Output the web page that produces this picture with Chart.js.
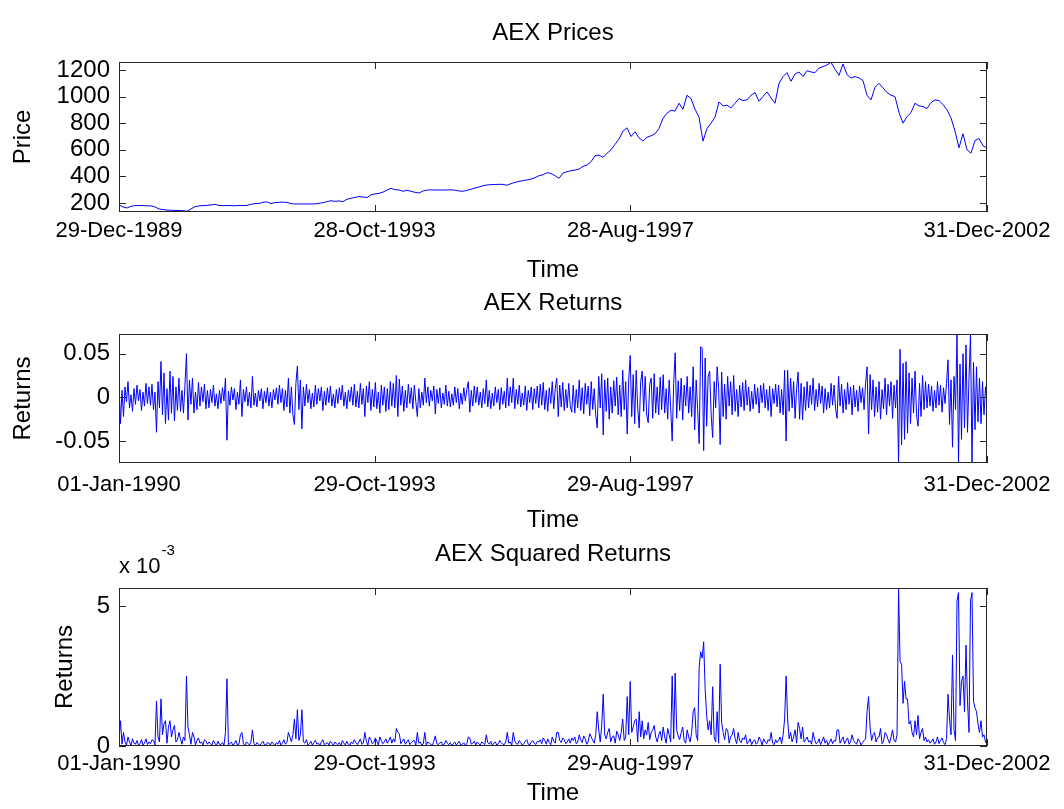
<!DOCTYPE html>
<html>
<head>
<meta charset="utf-8">
<script src="https://cdn.jsdelivr.net/npm/chart.js@4.4.1/dist/chart.umd.min.js"></script>
<style>
  body { margin: 0; background: #fff; }
  canvas { position: absolute; left: 0; }
</style>
</head>
<body>
<canvas id="prices" width="1064" height="285" style="top:0px"></canvas>
<canvas id="returns" width="1064" height="250" style="top:285px"></canvas>
<canvas id="squared" width="1064" height="274" style="top:535px"></canvas>
<script>
// x axis runs in days from 29-Dec-1989 to 31-Dec-2002
const totalDays = 4750;
const tickDays = [0, 1399, 2799, 4750];
const priceDateLabels = ['29-Dec-1989', '28-Oct-1993', '28-Aug-1997', '31-Dec-2002'];
const returnDateLabels = ['01-Jan-1990', '29-Oct-1993', '29-Aug-1997', '31-Dec-2002'];

const priceTicks = [200, 400, 600, 800, 1000, 1200];
const returnTicks = [-0.05, 0, 0.05];
const squaredTicks = [0, 5];

// AEX index level, evenly spaced over the period
const prices = [
  185, 170, 162, 175, 180, 181, 180, 179, 178, 170,
  155, 150, 146, 145, 144, 143, 142, 137, 155, 172,
  178, 180, 182, 185, 190, 181, 180, 181, 180, 179,
  181, 180, 182, 190, 195, 196, 205, 208, 195, 203,
  205, 206, 204, 195, 192, 193, 192, 193, 192, 193,
  198, 202, 210, 217, 212, 215, 210, 228, 235, 242,
  248, 245, 240, 262, 268, 272, 282, 296, 310, 300,
  298, 288, 295, 288, 280, 275, 290, 297, 298, 297,
  298, 297, 298, 299, 296, 290, 288, 295, 303, 313,
  320, 330, 335, 338, 339, 340, 340, 333, 345, 355,
  362, 368, 373, 380, 390, 405, 412, 428, 422, 405,
  385, 425, 435, 443, 447, 455, 475, 485, 510, 555,
  560, 543, 573, 600, 640, 680, 740, 765, 700, 735,
  690, 665, 694, 705, 720, 760, 837, 875, 898, 890,
  950, 905, 1010, 985, 905, 845, 665, 760, 800, 845,
  960, 930, 935, 915, 950, 985, 970, 975, 1010, 1030,
  965, 1000, 1035, 990, 950, 1100, 1150, 1180, 1115, 1170,
  1185, 1150, 1195, 1185, 1180, 1215, 1225, 1238, 1258, 1205,
  1160, 1245, 1165, 1140, 1150, 1140, 1120, 1010, 975, 1070,
  1100, 1065, 1030, 1010, 1000, 880, 800, 850, 880, 950,
  930, 925, 910, 955, 975, 970, 940, 900, 840, 740,
  615, 720, 600, 575, 670, 685, 630, 612
];

// daily returns in units of 0.001, evenly spaced over the period
const returnsMilli = [
  15, -30, 8, -22, 12, -5, 18, -12, 3, -16, 10, -8, 14, -4, 9, -15, 6, -10, 16, -7,
  12, -9, 15, -14, 6, -40, 18, -12, 41, -20, 28, -30, 10, -26, 30, -18, 24, -27, 12, -15,
  22, -16, 8, -18, 14, 50, -26, 20, -8, 22, -18, 6, -14, 17, -10, 12, -5, 15, -13, 8,
  -12, 9, -6, 14, -10, 4, -13, 8, -7, 11, -4, 22, -49, 7, -9, 12, -3, 10, -14, 6,
  -8, 20, -22, 9, -5, 12, -10, 6, -12, 24, -9, 5, -11, 8, -4, 10, -13, 7, -6, 11,
  -10, 6, -12, 9, -3, 11, -8, 14, -6, 10, -15, 8, -11, 22, -18, 12, -20, -31, 16, 36,
  -14, 20, -36, 12, -10, 15, -6, 9, -13, 5, -11, 14, -8, 10, -4, 12, -15, 7, -9, 11,
  -6, 13, -10, 4, -12, 9, -7, 11, -3, 14, -10, 6, -13, 8, -5, 12, -9, 15, -11, 7,
  -12, 16, -8, 10, -22, 13, -6, 18, -15, 9, -11, 17, -13, 6, -18, 14, -9, 12, -16, 10,
  -14, 18, -10, 16, -12, 25, -22, 21, -9, 13, -16, 8, -12, 15, -7, 11, -13, 14, -5, -22,
  10, -12, 6, -9, 22, -6, 12, -10, 8, -4, 13, -19, 9, -7, 11, -12, 5, -8, 14, -10,
  7, -11, 4, -9, 12, -6, 10, -13, 5, -8, 11, -4, 9, 18, -17, 8, -10, 13, -6, 12,
  -9, 6, -12, 10, -7, 20, -11, 8, -13, 5, -10, 12, -6, 9, -14, 11, -8, 7, -12, 22,
  -10, 12, -6, 22, -13, 9, -8, 14, -11, 5, -9, 13, -15, 8, -6, 12, -14, 10, -7, 13,
  -12, 15, -9, 17, -14, 8, -16, 11, -7, 18, -13, 10, 22, -22, 14, -11, 17, -15, 9, -12,
  16, -10, -17, 14, -18, 9, -12, 20, -15, 11, -19, 16, -8, 13, -21, 18, -14, 10, -20, -35,
  24, -12, 27, -43, 20, -16, 22, -25, 12, -18, 19, -10, 23, -20, 14, -22, 31, -14, 18, -42,
  20, 48, -22, 26, -30, 31, -12, -35, 18, 30, -16, 24, -20, -29, 15, 22, -24, 27, -18, 12,
  -20, 23, -14, 26, -18, 10, -25, 20, -12, -50, 16, 51, -24, 19, -15, 22, -26, 14, -10, 24,
  -18, 12, -22, 35, -37, 20, -14, -53, 58, 56, -61, 45, -33, 24, 30, -20, -46, 18, -12, 35,
  10, -54, 29, -22, 15, -25, 24, -10, 18, -20, 25, -16, 9, -22, 14, -11, 17, -15, 20, -9,
  12, -16, 7, -13, 15, -8, 11, -18, 14, -6, 16, -12, 9, -15, 13, -22, 10, -7, 15, -11,
  14, -18, 9, -20, 31, -50, 31, -16, 22, -12, 18, -24, 10, 29, -25, 16, -26, 12, -15, 18,
  -12, 14, -8, 22, -15, 9, -11, 16, -7, 13, -18, 10, -14, 6, -12, 16, -9, 14, -13, -24,
  24, -10, 15, -18, 9, -14, 17, -8, 12, -20, 14, -11, 8, -16, 13, -6, 11, -14, 16, 35,
  -42, 26, -14, 20, -22, 12, -17, 18, -25, 9, -13, 22, -20, 15, -10, 18, -24, 14, -12, 20,
  -75, 55, -54, 39, -48, 41, -41, 28, -30, 22, -18, 30, -20, -33, 16, -22, 25, -14, 18, -12,
  15, -10, 13, -16, 8, -12, 18, -9, 14, -17, 11, -7, 16, 43, -31, 20, -57, 24, -14, 72,
  -74, 38, -48, 50, -35, 60, -40, 22, 72, -74, 40, -37, 35, -28, 22, -30, 18, -20, 12, -8
];

const FONT = "'Liberation Sans', Arial, Helvetica, sans-serif";
Chart.defaults.font.family = FONT;
Chart.defaults.font.size = 24;
Chart.defaults.color = '#000';

function toPoints(values) {
  const step = totalDays / (values.length - 1);
  return values.map((v, i) => ({ x: i * step, y: v }));
}

// matlab style box with inward ticks on all four sides
const boxTicks = {
  id: 'boxTicks',
  afterDatasetsDraw(chart) {
    const { ctx, chartArea: a, scales } = chart;
    const len = 7;
    ctx.save();
    ctx.strokeStyle = '#262626';
    ctx.lineWidth = 1;
    ctx.strokeRect(a.left + 0.5, a.top + 0.5, a.width - 1, a.height - 1);
    ctx.beginPath();
    scales.x.ticks.forEach(t => {
      const px = Math.round(scales.x.getPixelForValue(t.value)) + 0.5;
      ctx.moveTo(px, a.top); ctx.lineTo(px, a.top + len);
      ctx.moveTo(px, a.bottom); ctx.lineTo(px, a.bottom - len);
    });
    scales.y.ticks.forEach(t => {
      const py = Math.round(scales.y.getPixelForValue(t.value)) + 0.5;
      ctx.moveTo(a.left, py); ctx.lineTo(a.left + len, py);
      ctx.moveTo(a.right, py); ctx.lineTo(a.right - len, py);
    });
    ctx.stroke();
    ctx.restore();
  }
};

// "x 10^-3" multiplier above the squared returns axis
const exponentLabel = {
  id: 'exponentLabel',
  afterDraw(chart) {
    const { ctx, chartArea: a } = chart;
    ctx.save();
    ctx.fillStyle = '#000';
    ctx.textBaseline = 'alphabetic';
    ctx.textAlign = 'left';
    ctx.font = '22px ' + FONT;
    ctx.fillText('x 10', a.left, a.top - 15);
    const w = ctx.measureText('x 10').width;
    ctx.font = '15px ' + FONT;
    ctx.fillText('-3', a.left + w + 1, a.top - 33);
    ctx.restore();
  }
};

function makePanel(id, o) {
  return new Chart(document.getElementById(id), {
    type: 'line',
    data: {
      datasets: [{
        data: o.points,
        borderColor: '#0000ff',
        borderWidth: 1,
        pointRadius: 0,
        tension: 0
      }]
    },
    options: {
      responsive: false,
      animation: false,
      events: [],
      layout: { padding: { left: 0, right: 77, top: 0, bottom: 0 } },
      plugins: {
        legend: { display: false },
        tooltip: { enabled: false },
        title: {
          display: true,
          fullSize: false,
          text: o.title,
          color: '#000',
          font: { size: 24, weight: 'normal' },
          padding: o.titlePad
        }
      },
      scales: {
        x: {
          type: 'linear',
          min: 0,
          max: totalDays,
          grid: { display: false, drawTicks: false },
          border: { display: false },
          afterBuildTicks: s => { s.ticks = tickDays.map(v => ({ value: v })); },
          afterFit: s => { s.height = o.xHeight; s.paddingLeft = 0; s.paddingRight = 0; },
          ticks: {
            autoSkip: false,
            maxRotation: 0,
            font: { size: 22 },
            padding: o.xTickPad,
            callback: (v, i) => o.dateLabels[i]
          },
          title: { display: true, text: 'Time', padding: { top: 0, bottom: o.xTitlePad } }
        },
        y: {
          min: o.yMin,
          max: o.yMax,
          grid: { display: false, drawTicks: false },
          border: { display: false },
          afterBuildTicks: s => { s.ticks = o.yTicks.map(v => ({ value: v })); },
          afterFit: s => { s.width = 119; s.paddingTop = 0; s.paddingBottom = 0; },
          ticks: { autoSkip: false, padding: 9, callback: o.yFormat },
          title: { display: true, text: o.yTitle, padding: { top: o.yTitlePad, bottom: 0 } }
        }
      }
    },
    plugins: [boxTicks].concat(o.extra || [])
  });
}

makePanel('prices', {
  points: toPoints(prices),
  title: 'AEX Prices',
  titlePad: { top: 19.1, bottom: 14.1 },
  dateLabels: priceDateLabels,
  xHeight: 73, xTickPad: 6, xTitlePad: 0.6,
  yMin: 132, yMax: 1260, yTicks: priceTicks,
  yFormat: v => String(v),
  yTitle: 'Price', yTitlePad: 8.6
});

makePanel('returns', {
  points: toPoints(returnsMilli.map(r => r / 1000)),
  title: 'AEX Returns',
  titlePad: { top: 4.1, bottom: 16.1 },
  dateLabels: returnDateLabels,
  xHeight: 72, xTickPad: 8.5, xTitlePad: 0.6,
  yMin: -0.0751, yMax: 0.0725, yTicks: returnTicks,
  yFormat: v => (v === 0 ? '0' : v.toFixed(2)),
  yTitle: 'Returns', yTitlePad: 8.6
});

// squared returns shown in units of 10^-3
makePanel('squared', {
  points: toPoints(returnsMilli.map(r => r * r / 1000)),
  title: 'AEX Squared Returns',
  titlePad: { top: 5.1, bottom: 19.1 },
  dateLabels: returnDateLabels,
  xHeight: 63, xTickPad: 4.8, xTitlePad: 1.6,
  yMin: 0, yMax: 5.64, yTicks: squaredTicks,
  yFormat: v => String(v),
  yTitle: 'Returns', yTitlePad: 50.6,
  extra: [exponentLabel]
});
</script>
</body>
</html>
